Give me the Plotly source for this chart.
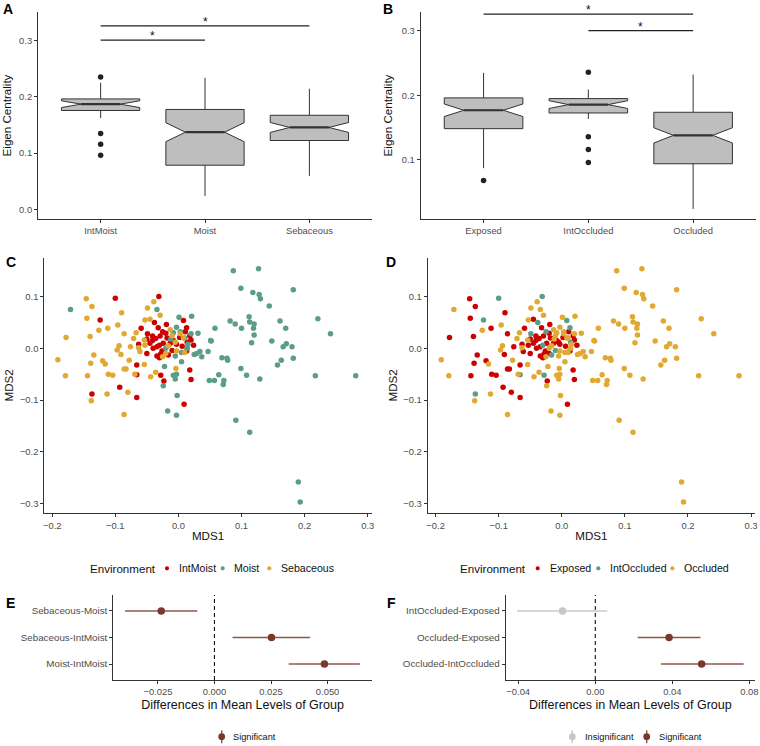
import plotly.graph_objects as go

FONT = "Liberation Sans, Arial, sans-serif"
TICK_COL = "#4D4D4D"
LINE_COL = "#333333"

# ---------------- Panel A / B : boxplots ----------------
site_cats = ["IntMoist", "Moist", "Sebaceous"]
site_q1 = [0.1755, 0.0785, 0.1223]
site_med = [0.1867, 0.1370, 0.1454]
site_q3 = [0.1960, 0.1773, 0.1670]
site_lo = [0.1620, 0.0240, 0.0596]
site_hi = [0.2245, 0.2334, 0.2140]
site_notch = [0.0060, 0.0168, 0.0088]
site_width = [0.75, 0.75, 0.75]
site_out_cat = ["IntMoist", "IntMoist", "IntMoist", "IntMoist"]
site_out_val = [0.2346, 0.1348, 0.1158, 0.0963]
site_sig_from = ["IntMoist", "IntMoist"]
site_sig_to = ["Moist", "Sebaceous"]
site_sig_y = [0.300, 0.3255]

occ_cats = ["Exposed", "IntOccluded", "Occluded"]
occ_q1 = [0.1482, 0.1725, 0.0938]
occ_med = [0.1767, 0.1855, 0.1378]
occ_q3 = [0.1959, 0.1948, 0.1736]
occ_lo = [0.0870, 0.1632, 0.0238]
occ_hi = [0.2347, 0.2088, 0.2321]
occ_notch = [0.0097, 0.0060, 0.0118]
occ_width = [0.75, 0.75, 0.75]
occ_out_cat = ["Exposed", "IntOccluded", "IntOccluded", "IntOccluded", "IntOccluded"]
occ_out_val = [0.0679, 0.2358, 0.1357, 0.1160, 0.0959]
occ_sig_from = ["IntOccluded", "Exposed"]
occ_sig_to = ["Occluded", "Occluded"]
occ_sig_y = [0.300, 0.3258]

# ---------------- Panel C / D : MDS ordination ----------------
intmoist_x = [-0.100, -0.124, -0.093, -0.137, -0.031, -0.038, 0.008, -0.059, -0.032, -0.019,
              -0.025, 0.011, 0.018, -0.049, -0.041, -0.036, -0.029, -0.063, -0.050, -0.040,
              -0.034, -0.030, -0.024, -0.013, -0.003, 0.020, 0.024, -0.034, -0.028, -0.016,
              -0.066, -0.028, 0.018, 0.020, -0.023, -0.066, 0.009, -0.045, -0.018, -0.008,
              0.002, 0.014, -0.026, -0.010, 0.006, -0.041, -0.020, 0.013, -0.050, -0.030,
              0.013, -0.066]
intmoist_y = [0.097, 0.055, -0.075, -0.088, 0.100, 0.050, 0.054, 0.039, 0.040, 0.046,
              0.032, 0.032, 0.024, 0.028, 0.024, 0.019, 0.024, 0.008, -0.010, 0.000,
              0.003, 0.006, 0.010, 0.010, 0.008, 0.016, 0.006, -0.015, -0.011, -0.013,
              -0.032, -0.052, -0.042, -0.060, -0.063, -0.095, -0.108, 0.010, 0.020, 0.015,
              0.021, 0.012, -0.005, -0.004, 0.004, 0.015, 0.029, 0.040, 0.018, -0.018,
              -0.005, -0.051]
intmoist_occl = ["IntOccluded", "IntOccluded", "Exposed", "IntOccluded", "IntOccluded", "IntOccluded",
                 "IntOccluded", "Exposed", "Exposed", "Exposed",
                 "IntOccluded", "Exposed", "Exposed", "IntOccluded", "Exposed", "Exposed", "Exposed",
                 "Exposed", "Exposed", "Exposed",
                 "Exposed", "IntOccluded", "Exposed", "Exposed", "Exposed", "Exposed", "Exposed",
                 "Exposed", "Exposed", "IntOccluded",
                 "Exposed", "IntOccluded", "Exposed", "Exposed", "Exposed", "Exposed", "Exposed",
                 "Exposed", "Exposed", "Exposed",
                 "Exposed", "IntOccluded", "Exposed", "IntOccluded", "Exposed", "Exposed", "Exposed",
                 "IntOccluded", "Exposed", "Exposed",
                 "Exposed", "IntOccluded"]

moist_x = [-0.171, -0.034, 0.021, 0.001, -0.003, 0.003, 0.031, 0.058, -0.020, 0.014,
           0.029, 0.034, 0.037, 0.047, 0.052, -0.005, 0.005, -0.022, -0.008, -0.003,
           -0.005, -0.024, 0.049, 0.057, -0.002, -0.017, -0.003, 0.010, -0.008, 0.015,
           0.005, -0.012, 0.020, 0.025,
           0.099, 0.118, 0.128, 0.130, 0.182, 0.144, 0.082, 0.090, 0.100, 0.112,
           0.113, 0.120, 0.119, 0.120, 0.161, 0.170, 0.221, 0.241, 0.051, 0.116,
           0.148, 0.171, 0.166, 0.180, 0.069, 0.077, 0.078, 0.163, 0.182, 0.157,
           0.064, 0.072, 0.071, 0.099, 0.108, 0.129, 0.217, 0.281, 0.091, 0.113,
           0.190, 0.193, 0.087, 0.127]
moist_y = [0.075, 0.075, 0.062, 0.060, 0.041, 0.032, 0.029, 0.039, 0.000, 0.000,
           -0.010, -0.006, -0.016, -0.006, 0.014, -0.015, -0.026, -0.035, -0.052, -0.050,
           -0.059, -0.072, -0.062, -0.062, -0.091, -0.121, -0.129, 0.020, 0.030, 0.008,
           -0.008, 0.018, 0.028, -0.012,
           0.116, 0.108, 0.104, 0.096, 0.113, 0.082, 0.053, 0.047, 0.039, 0.061,
           0.051, 0.047, 0.039, 0.026, 0.053, 0.039, 0.057, 0.028, 0.015, 0.011,
           0.014, 0.009, 0.003, 0.003, -0.018, -0.019, -0.023, -0.023, -0.019, -0.032,
           -0.051, -0.062, -0.070, -0.039, -0.052, -0.059, -0.053, -0.053, -0.139, -0.162,
           -0.258, -0.297, 0.150, 0.154]

sebaceous_x = [-0.146, -0.137, -0.145, -0.090, -0.096, -0.112, -0.126, -0.086, -0.178, -0.140,
               -0.094, -0.076, -0.097, -0.091, -0.134, -0.191, -0.120, -0.116, -0.139, -0.078,
               -0.086, -0.083, -0.179, -0.144, -0.111, -0.104, -0.113, -0.080, -0.138, -0.086,
               -0.039, -0.049, -0.029, -0.053, -0.045, -0.013, -0.067, -0.071, -0.054, -0.053,
               -0.063, -0.061, -0.025, -0.054, -0.004, -0.069, -0.044, -0.036, -0.010, 0.003,
               -0.005, 0.008, -0.016, -0.003, 0.010, -0.020]
sebaceous_y = [0.096, 0.081, 0.058, 0.069, 0.045, 0.039, 0.035, 0.028, 0.021, 0.023,
               0.005, 0.003, -0.003, -0.012, -0.013, -0.022, -0.024, -0.030, -0.029, -0.023,
               -0.040, -0.040, -0.053, -0.053, -0.050, -0.052, -0.088, -0.085, -0.101, -0.128,
               0.090, 0.078, 0.064, 0.055, 0.056, 0.036, 0.030, 0.019, 0.016, 0.006,
               0.001, -0.006, -0.016, -0.031, -0.039, -0.050, -0.055, -0.046, 0.025, 0.028,
               0.012, 0.020, 0.005, -0.005, -0.008, -0.010]
sebaceous_occl = ["Exposed", "Exposed", "Exposed", "Exposed", "Occluded", "Exposed", "Occluded",
                  "Exposed", "Exposed", "Exposed",
                  "Occluded", "Exposed", "Occluded", "Exposed", "Exposed", "Occluded", "Exposed",
                  "Occluded", "Exposed", "Occluded",
                  "Exposed", "Exposed", "Occluded", "Exposed", "Exposed", "Exposed", "Occluded",
                  "Exposed", "Occluded", "Occluded",
                  "Occluded", "Occluded", "Occluded", "Occluded", "Exposed", "Occluded", "Occluded",
                  "Occluded", "Occluded", "Exposed",
                  "Occluded", "Exposed", "Occluded", "Occluded", "Occluded", "Occluded", "Occluded",
                  "Occluded", "Occluded", "Occluded",
                  "Exposed", "Occluded", "Occluded", "Occluded", "Occluded", "Exposed"]

site_colors = {"IntMoist": "#CC0000", "Moist": "#5B9D89", "Sebaceous": "#E1A832"}
occ_colors = {"Exposed": "#CC0000", "IntOccluded": "#5B9D89", "Occluded": "#E1A832"}

# ---------------- Panel E / F : Tukey HSD ----------------
site_cmp = ["Sebaceous-Moist", "Sebaceous-IntMoist", "Moist-IntMoist"]
site_diff = [-0.0235, 0.0252, 0.0486]
site_lwr = [-0.0395, 0.0080, 0.0328]
site_upr = [-0.0076, 0.0423, 0.0643]
site_signif = ["Significant", "Significant", "Significant"]

occ_cmp = ["IntOccluded-Exposed", "Occluded-Exposed", "Occluded-IntOccluded"]
occ_diff = [-0.0170, 0.0383, 0.0552]
occ_lwr = [-0.0406, 0.0220, 0.0340]
occ_upr = [0.0062, 0.0546, 0.0770]
occ_signif = ["Insignificant", "Significant", "Significant"]

sig_colors = {"Significant": "#7A3A2B", "Insignificant": "#C6C6C6"}
sig_line_colors = {"Significant": "rgba(122,58,43,0.85)", "Insignificant": "rgba(198,198,198,0.95)"}

W, H = 760, 746
fig = go.Figure()


def add_boxes(cats, q1, med, q3, lo, hi, notch, widths, out_cat, out_val,
              sig_from, sig_to, sig_y, xa, ya):
    for i, c in enumerate(cats):
        fig.add_trace(go.Box(
            x=[i], q1=[q1[i]], median=[med[i]], q3=[q3[i]],
            lowerfence=[lo[i]], upperfence=[hi[i]], notchspan=[notch[i]],
            notched=True, notchwidth=0.25, width=widths[i], whiskerwidth=0,
            fillcolor="#BEBEBE", line=dict(color=LINE_COL, width=1),
            boxpoints=False, showlegend=False, hoverinfo="skip",
            xaxis=xa, yaxis=ya))
        fig.add_trace(go.Scatter(
            x=[i - widths[i] / 4, i + widths[i] / 4], y=[med[i], med[i]],
            mode="lines", line=dict(color=LINE_COL, width=2.2),
            showlegend=False, hoverinfo="skip", xaxis=xa, yaxis=ya))
    fig.add_trace(go.Scatter(
        x=[cats.index(c) for c in out_cat], y=out_val, mode="markers",
        marker=dict(color="#222222", size=5.5), showlegend=False,
        hoverinfo="skip", xaxis=xa, yaxis=ya))
    for f, t, yv in zip(sig_from, sig_to, sig_y):
        i0, i1 = cats.index(f), cats.index(t)
        fig.add_trace(go.Scatter(
            x=[i0, i1], y=[yv, yv], mode="lines",
            line=dict(color="#222222", width=1.2), showlegend=False,
            hoverinfo="skip", xaxis=xa, yaxis=ya))
        fig.add_annotation(x=(i0 + i1) / 2, y=yv, xref=xa, yref=ya,
                           text="*", showarrow=False, yanchor="bottom", yshift=-5,
                           font=dict(size=12, color="#111111", family=FONT))


add_boxes(site_cats, site_q1, site_med, site_q3, site_lo, site_hi, site_notch,
          site_width, site_out_cat, site_out_val, site_sig_from, site_sig_to,
          site_sig_y, "x", "y")
add_boxes(occ_cats, occ_q1, occ_med, occ_q3, occ_lo, occ_hi, occ_notch,
          occ_width, occ_out_cat, occ_out_val, occ_sig_from, occ_sig_to,
          occ_sig_y, "x2", "y2")

# MDS panels
all_x = intmoist_x + moist_x + sebaceous_x
all_y = intmoist_y + moist_y + sebaceous_y
all_site = ["IntMoist"] * len(intmoist_x) + ["Moist"] * len(moist_x) + ["Sebaceous"] * len(sebaceous_x)
all_occ = intmoist_occl + ["Occluded"] * len(moist_x) + sebaceous_occl

for g in site_cats:
    idx = [k for k, s in enumerate(all_site) if s == g]
    fig.add_trace(go.Scatter(
        x=[all_x[k] for k in idx], y=[all_y[k] for k in idx], mode="markers",
        name=g, marker=dict(color=site_colors[g], size=5.5), showlegend=False,
        xaxis="x3", yaxis="y3"))
for g in occ_cats:
    idx = [k for k, s in enumerate(all_occ) if s == g]
    fig.add_trace(go.Scatter(
        x=[all_x[k] for k in idx], y=[all_y[k] for k in idx], mode="markers",
        name=g, marker=dict(color=occ_colors[g], size=5.5), showlegend=False,
        xaxis="x4", yaxis="y4"))


def add_hsd(cmp, diff, lwr, upr, signif, xa, ya):
    for s in ("Insignificant", "Significant"):
        idx = [k for k, v in enumerate(signif) if v == s]
        if not idx:
            continue
        fig.add_trace(go.Scatter(
            x=[diff[k] for k in idx], y=[cmp[k] for k in idx], mode="markers",
            name=s, marker=dict(color=sig_colors[s], size=7.5),
            error_x=dict(type="data", symmetric=False,
                         array=[upr[k] - diff[k] for k in idx],
                         arrayminus=[diff[k] - lwr[k] for k in idx],
                         color=sig_line_colors[s], thickness=1.6, width=0),
            showlegend=False, xaxis=xa, yaxis=ya))


add_hsd(site_cmp, site_diff, site_lwr, site_upr, site_signif, "x5", "y5")
add_hsd(occ_cmp, occ_diff, occ_lwr, occ_upr, occ_signif, "x6", "y6")

for xa, ya in (("x5", "y5"), ("x6", "y6")):
    fig.add_shape(type="line", xref=xa, yref=ya + " domain", x0=0, x1=0, y0=0, y1=1,
                  line=dict(color="#111111", width=1.1, dash="4px,3px"), layer="below")


# ---------------- hand-drawn legends (ggplot bottom legends) ----------------
def px_x(v):
    return v / W


def px_y(v):
    return 1 - v / H


def legend_text(x, y, text, size):
    fig.add_annotation(x=px_x(x), y=px_y(y), xref="paper", yref="paper", text=text,
                       showarrow=False, xanchor="left", yanchor="middle",
                       font=dict(size=size, family=FONT, color="#111111"))


def legend_dot(x, y, color, r):
    fig.add_shape(type="circle", xref="paper", yref="paper",
                  x0=px_x(x - r), x1=px_x(x + r), y0=px_y(y + r), y1=px_y(y - r),
                  fillcolor=color, line=dict(width=0))


env_legend_y = 568.3
legend_text(87.5, env_legend_y, "Environment", 11.6)
for g, dot_x, txt_x in zip(site_cats, [167, 222.7, 269.3], [176.5, 232.5, 279]):
    legend_dot(dot_x, env_legend_y, site_colors[g], 2.1)
    legend_text(txt_x, env_legend_y, g, 10.6)

legend_text(457.5, env_legend_y, "Environment", 11.6)
for g, dot_x, txt_x in zip(occ_cats, [537.7, 598.3, 672.3], [547.5, 608, 682]):
    legend_dot(dot_x, env_legend_y, occ_colors[g], 2.1)
    legend_text(txt_x, env_legend_y, g, 10.6)

sig_legend_y = 736.7
for s, dot_x, txt_x in (("Significant", 221.7, 231.5),
                        ("Insignificant", 572.3, 582.5),
                        ("Significant", 646.7, 656.5)):
    fig.add_shape(type="line", xref="paper", yref="paper",
                  x0=px_x(dot_x), x1=px_x(dot_x), y0=px_y(sig_legend_y + 6.5),
                  y1=px_y(sig_legend_y - 6.5), line=dict(color=sig_line_colors[s], width=1.4))
    legend_dot(dot_x, sig_legend_y, sig_colors[s], 3.4)
    legend_text(txt_x, sig_legend_y, s, 9.2)


def dx(a, b):
    return [a / W, b / W]


def dy(top, bottom):
    return [1 - bottom / H, 1 - top / H]


axis_common = dict(showline=True, linecolor=LINE_COL, linewidth=1, ticks="outside",
                   ticklen=3, tickcolor=LINE_COL, showgrid=False, zeroline=False,
                   automargin=False,
                   tickfont=dict(size=9.4, color=TICK_COL, family=FONT),
                   title_font=dict(size=11.6, color="#111111", family=FONT))
big_title = dict(size=12.5, color="#111111", family=FONT)
cat_tick = dict(size=9.8, color=TICK_COL, family=FONT)

fig.update_layout(
    template="none",
    width=W, height=H, margin=dict(l=0, r=0, t=0, b=0, pad=0),
    paper_bgcolor="white", plot_bgcolor="white", boxmode="overlay", showlegend=False,
    font=dict(family=FONT, color="#111111"),
    xaxis=dict(domain=dx(38, 372), range=[-0.6, 2.6], tickvals=[0, 1, 2],
               ticktext=site_cats, anchor="y", **axis_common),
    yaxis=dict(domain=dy(12, 219), range=[-0.0168, 0.350], tickvals=[0, 0.1, 0.2, 0.3],
               tickformat=".1f", anchor="x",
               title=dict(text="Eigen Centrality", standoff=6), **axis_common),
    xaxis2=dict(domain=dx(420.7, 756), range=[-0.6, 2.6], tickvals=[0, 1, 2],
                ticktext=occ_cats, anchor="y2", **axis_common),
    yaxis2=dict(domain=dy(12, 219), range=[0.0082, 0.329], tickvals=[0.1, 0.2, 0.3],
                tickformat=".1f", anchor="x2",
                title=dict(text="Eigen Centrality", standoff=6), **axis_common),
    xaxis3=dict(domain=dx(44.3, 371.7), range=[-0.2125, 0.3063], dtick=0.1,
                tickformat=".1f", anchor="y3", title=dict(text="MDS1", standoff=2),
                **axis_common),
    yaxis3=dict(domain=dy(257.5, 513.3), range=[-0.3186, 0.1755], dtick=0.1,
                tickformat=".1f", anchor="x3", title=dict(text="MDS2", standoff=3),
                **axis_common),
    xaxis4=dict(domain=dx(427.7, 755), range=[-0.2125, 0.3063], dtick=0.1,
                tickformat=".1f", anchor="y4", title=dict(text="MDS1", standoff=2),
                **axis_common),
    yaxis4=dict(domain=dy(257.5, 513.3), range=[-0.3186, 0.1755], dtick=0.1,
                tickformat=".1f", anchor="x4", title=dict(text="MDS2", standoff=3),
                **axis_common),
    xaxis5=dict(domain=dx(113.3, 371.7), range=[-0.0447, 0.0695],
                tickvals=[-0.025, 0, 0.025, 0.05], tickformat=".3f", anchor="y5",
                **{**axis_common, "title_font": big_title},
                title=dict(text="Differences in Mean Levels of Group", standoff=3)),
    yaxis5=dict(domain=dy(595, 680), type="category", categoryorder="array",
                categoryarray=site_cmp[::-1], range=[-0.6, 2.6], anchor="x5",
                **{**axis_common, "tickfont": cat_tick}),
    xaxis6=dict(domain=dx(505.7, 755), range=[-0.0465, 0.0829],
                tickvals=[-0.04, 0, 0.04, 0.08], tickformat=".2f", anchor="y6",
                **{**axis_common, "title_font": big_title},
                title=dict(text="Differences in Mean Levels of Group", standoff=3)),
    yaxis6=dict(domain=dy(595, 680), type="category", categoryorder="array",
                categoryarray=occ_cmp[::-1], range=[-0.6, 2.6], anchor="x6",
                **{**axis_common, "tickfont": cat_tick}),
)

for lab, px, py in (("A", 7.5, 9), ("B", 388, 9), ("C", 11, 262), ("D", 391, 262),
                    ("E", 10.5, 603), ("F", 391.5, 603)):
    fig.add_annotation(x=px / W, y=1 - py / H, xref="paper", yref="paper", text=f"<b>{lab}</b>",
                       showarrow=False, xanchor="center", yanchor="middle",
                       font=dict(size=14, family=FONT, color="#000000"))

fig.write_html("out.html", config={"displayModeBar": False},
               post_script="document.body.style.margin='0';document.body.style.padding='0';")
